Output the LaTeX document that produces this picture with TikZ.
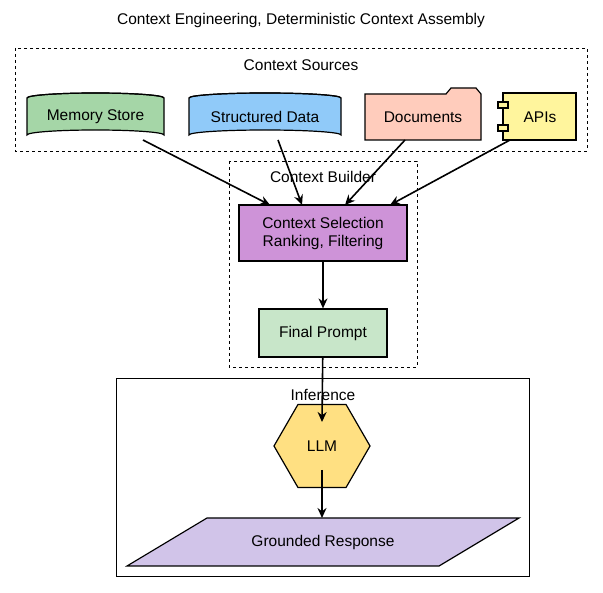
\documentclass[tikz,border=0pt]{standalone}
\usepackage{fontspec}
\setmainfont{Liberation Sans}
\usetikzlibrary{arrows.meta,shapes.geometric}
\begin{document}
\begin{tikzpicture}[x=1pt,y=-1pt,
  lbl/.style={font=\fontsize{15.5}{18}\selectfont,align=center},
  grp/.style={draw,dashed,line width=0.9pt},
  sh/.style={draw,line width=1.2pt},
  arr/.style={-{Stealth[length=10pt,width=9pt]},line width=1.6pt}]
\useasboundingbox (0,0) rectangle (603,593);
\node[lbl] (title) at (301,20) {Context Engineering, Deterministic Context Assembly};
% groups
\draw[grp] (15,48) rectangle (587,151);
\node[lbl] (gs) at (301,65) {Context Sources};
\draw[grp] (229,161) rectangle (417,367);
\draw[line width=0.9pt] (116,378) rectangle (529,576);
% cylinders
\filldraw[sh,fill=green!30!teal!10,fill={rgb,255:red,165;green,214;blue,167}]
  (27,98) -- (27,135) arc[start angle=180,end angle=360,x radius=68.5,y radius=5] -- (164,98) arc[start angle=0,end angle=-180,x radius=68.5,y radius=5] -- cycle;
\draw[sh] (27,98) arc[start angle=180,end angle=360,x radius=68.5,y radius=5];
\node[lbl] (mem) at (95.5,117) {Memory Store};
\filldraw[sh,fill={rgb,255:red,144;green,202;blue,249}]
  (189,98) -- (189,135) arc[start angle=180,end angle=360,x radius=76,y radius=5] -- (341,98) arc[start angle=0,end angle=-180,x radius=76,y radius=5] -- cycle;
\draw[sh] (189,98) arc[start angle=180,end angle=360,x radius=76,y radius=5];
\node[lbl] (sd) at (265,117) {Structured Data};
% folder
\filldraw[sh,fill={rgb,255:red,255;green,204;blue,188}]
  (365,94) -- (446,94) -- (451,88) -- (476,88) -- (481,94) -- (481,140) -- (365,140) -- cycle;
\node[lbl] (doc) at (423,117) {Documents};
% component
\filldraw[sh,fill={rgb,255:red,255;green,245;blue,157}] (503,93) rectangle (576,140);
\filldraw[sh,fill={rgb,255:red,255;green,245;blue,157}] (498,102) rectangle (508,108);
\filldraw[sh,fill={rgb,255:red,255;green,245;blue,157}] (498,125) rectangle (508,131);
\node[lbl] (api) at (540,117) {APIs};
% builder
\node[lbl] (gb) at (323,177) {Context Builder};
\node[lbl,sh,fill={rgb,255:red,206;green,147;blue,216},minimum width=168pt,minimum height=56pt,inner sep=0pt] (sel) at (323,233) {Context Selection\\Ranking, Filtering};
\node[lbl,sh,fill={rgb,255:red,200;green,230;blue,201},minimum width=128pt,minimum height=48pt,inner sep=0pt] (fp) at (323,333) {Final Prompt};
\node[lbl] (gi) at (323,395) {Inference};
\node[lbl,sh,fill={rgb,255:red,255;green,224;blue,130},regular polygon,regular polygon sides=6,shape border rotate=0,minimum width=92pt,inner sep=0pt,minimum size=96pt] (llm) at (322,446) {};
\node[lbl] at (322,446) {LLM};
\filldraw[sh,fill={rgb,255:red,209;green,196;blue,233}] (207,518) -- (519,518) -- (439,566) -- (127,566) -- cycle;
\node[lbl] (gr) at (323,542) {Grounded Response};
% arrows
\draw[arr] (143,140) -- (270,205);
\draw[arr] (278,140) -- (302,205);
\draw[arr] (405,140) -- (345,205);
\draw[arr] (510,140) -- (390,205);
\draw[arr] (sel) -- (fp);
\draw[arr] (fp) -- (322,422);
\draw[arr] (322,470) -- (322,518);
\end{tikzpicture}
\end{document}
